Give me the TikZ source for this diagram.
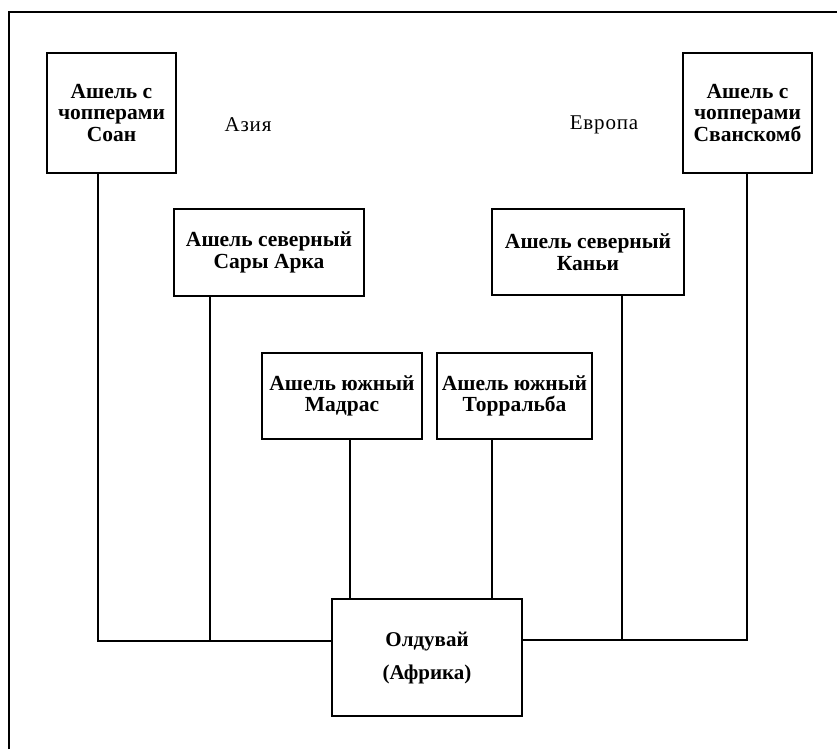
\documentclass[tikz,border=0pt]{standalone}
\usepackage{fontspec}
\setmainfont{Liberation Serif}
\newfontfamily\boxfont{Liberation Serif Bold}
\newfontfamily\labelfont[LetterSpace=4]{Liberation Serif}
\begin{document}
\begin{tikzpicture}[x=1pt,y=-1pt,
  box/.style={draw, line width=1.6pt, align=center, inner sep=0pt,
    font=\boxfont\fontsize{21.5}{21.5}\selectfont},
  conn/.style={line width=1.4pt},
  frame/.style={line width=2pt},
  region/.style={font=\labelfont\fontsize{21}{21}\selectfont}]
\useasboundingbox (0,0) rectangle (837,749);
\draw[frame] (9,749) -- (9,12) -- (837,12);

\node[box, minimum width=129, minimum height=120] (soan) at (111.5,113) {Ашель с\\чопперами\\Соан};
\node[box, minimum width=129, minimum height=120] (svan) at (747.5,113) {Ашель с\\чопперами\\Сванскомб};
\node[box, minimum width=190, minimum height=87] (sary) at (269,252.5) {Ашель северный\\Сары Арка};
\node[box, minimum width=192, minimum height=86] (kanyi) at (588,252) {Ашель северный\\Каньи};
\node[box, minimum width=160, minimum height=86] (madras) at (342,396) {Ашель южный\\Мадрас};
\node[box, minimum width=155, minimum height=86] (torr) at (514.5,396) {Ашель южный\\Торральба};
\node[box, minimum width=190, minimum height=117, font=\boxfont\fontsize{21}{33}\selectfont] (old) at (427,657.5) {Олдувай\\(Африка)};

\node[region] (asia) at (248,125) {Азия};
\node[region] (europe) at (604,125) {Европа};

\coordinate (jL) at (210,641);
\coordinate (jR) at (622,640);
\draw[conn] (soan.south -| 98,0) |- (old.west |- 0,641);
\draw[conn] (sary.south -| jL) -- (jL);
\draw[conn] (madras.south -| 350,0) -- (old.north -| 350,0);
\draw[conn] (torr.south -| 492,0) -- (old.north -| 492,0);
\draw[conn] (kanyi.south -| jR) -- (jR);
\draw[conn] (svan.south -| 747,0) |- (old.east |- 0,640);
\end{tikzpicture}
\end{document}
